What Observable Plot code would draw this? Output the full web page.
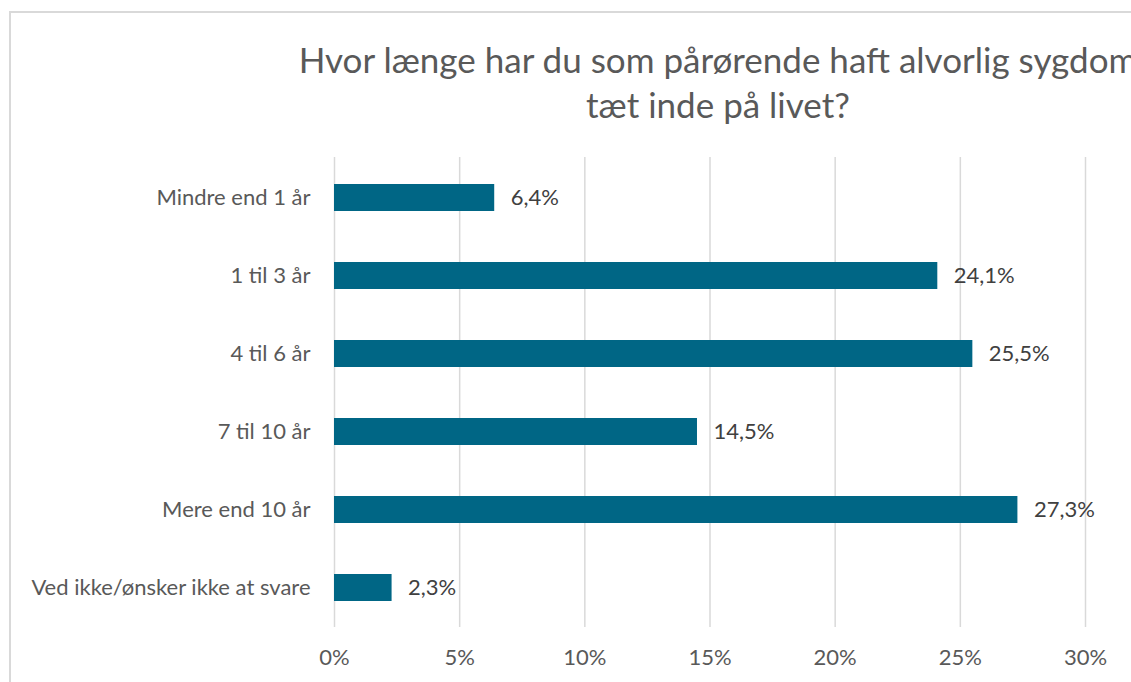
<!DOCTYPE html>
<html>
<head>
<meta charset="utf-8">
<script src="https://cdn.jsdelivr.net/npm/d3@7"></script>
<script src="https://cdn.jsdelivr.net/npm/@observablehq/plot@0.6"></script>
<style>
  html, body { margin: 0; padding: 0; background: #fff; }
  #wrap { position: relative; width: 1131px; height: 682px; overflow: hidden; background: #fff; font-family: Lato, "Open Sans", sans-serif; }
  #frame { position: absolute; left: 9px; top: 11px; width: 1200px; height: 800px; border-left: 2px solid #d9d9d9; border-top: 2px solid #d9d9d9; box-sizing: border-box; }
  #title { position: absolute; left: 218px; width: 1000px; top: 37px; text-align: center; font-size: 35px; line-height: 45px; color: #595959; white-space: nowrap; }
  #chart { position: absolute; left: 0; top: 0; }
</style>
</head>
<body>
<div id="wrap">
  <div id="frame"></div>
  <div id="title">Hvor længe har du som pårørende haft alvorlig sygdom<br>tæt inde på livet?</div>
  <div id="chart"></div>
</div>
<script>
const categories = ["Mindre end 1 år", "1 til 3 år", "4 til 6 år", "7 til 10 år", "Mere end 10 år", "Ved ikke/ønsker ikke at svare"];
const values = [6.4, 24.1, 25.5, 14.5, 27.3, 2.3];
const xTicks = [0, 5, 10, 15, 20, 25, 30];

const data = categories.map((c, i) => ({category: c, value: values[i]}));
const fmt = v => v.toFixed(1).replace(".", ",") + "%";

const chart = Plot.plot({
  width: 1131,
  height: 682,
  marginTop: 157,
  marginBottom: 55,
  marginLeft: 334,
  marginRight: 46,
  style: {fontFamily: "Lato, 'Open Sans', sans-serif", fontSize: "22px", color: "#595959", background: "transparent", overflow: "visible"},
  x: {domain: [0, 30], ticks: xTicks, tickFormat: d => d + "%", label: null},
  y: {domain: categories, paddingInner: 0.655, paddingOuter: 0.3275, label: null},
  marks: [
    Plot.ruleX(xTicks, {stroke: "#d9d9d9", strokeWidth: 1.5}),
    Plot.barX(data, {x: "value", y: "category", fill: "#006685"}),
    Plot.text(data, {x: "value", y: "category", text: d => fmt(d.value), textAnchor: "start", dx: 16, fill: "#404040", fontSize: 22}),
    Plot.axisX({ticks: xTicks, tickFormat: d => d + "%", tickSize: 0, tickPadding: 22, fontSize: 22, label: null}),
    Plot.axisY({tickSize: 0, tickPadding: 24, fontSize: 22, label: null})
  ]
});
document.getElementById("chart").appendChild(chart);
</script>
</body>
</html>
